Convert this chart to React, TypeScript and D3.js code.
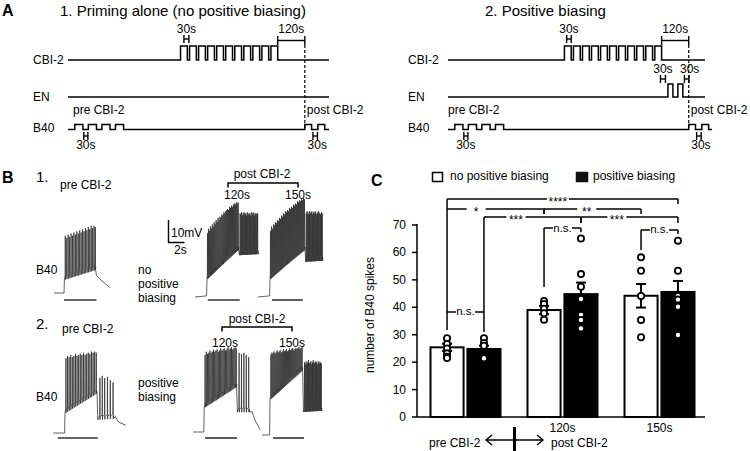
import React from 'react';
import * as d3 from 'd3';

const FONT = "'Liberation Sans', Arial, Helvetica, sans-serif";

// ---------------- Panel C data ----------------
const groups = ['pre', '120s', '150s'];
const groupLabels = ['', '120s', '150s'];
const conditions = ['no positive biasing', 'positive biasing'];
const meansNo = [25.4, 39.0, 44.2];
const meansPos = [24.8, 44.8, 45.6];
const semNo = [1.3, 1.5, 4.3];
const semPos = [1.2, 4.2, 4.0];
const pointsNo = [
  [28.7, 26.6, 25, 23.2, 22, 21.5],
  [42.3, 41.2, 39.5, 37.8, 35.5],
  [58.2, 53.3, 44.1, 35.4, 29.1],
];
const pointsPos = [
  [28.7, 27, 26, 21.4],
  [65.1, 52.1, 47.5, 43, 37.2, 35.4, 32.3],
  [64.3, 53.3, 44.1, 42.8, 40.2, 29.9],
];
const yTicks = [0, 10, 20, 30, 40, 50, 60, 70];

// significance brackets: [group, condition] endpoints, level and leg ends in y units
const sigLabels = ['****', '*', '**', '***', '***', 'n.s.', 'n.s.', 'n.s.'];
const sigFrom = [[0, 0], [0, 0], [1, 0], [0, 1], [1, 1], [0, 0], [1, 0], [2, 0]];
const sigTo = [[2, 1], [1, 0], [2, 0], [1, 1], [2, 1], [0, 1], [1, 1], [2, 1]];
const sigLevel = [79.5, 75.8, 75.8, 72.9, 72.9, 38.3, 68.9, 68.2];
const sigFromEnd = [31.7, 75.8, 74, 31, 70.7, 38.3, 47.4, 60.9];
const sigToEnd = [77.7, 74, 74, 70.7, 70.7, 38.3, 67.4, 66.7];
const sigLabelFrac = [0.48, 0.3, 0.44, 0.33, 0.37, 0.5, 0.5, 0.5];

// ---------------- Panel A data (seconds) ----------------
const cbiStarts1 = [498, 538, 578, 618, 658, 698, 738, 778, 818, 858, 898];
const cbiStarts2 = [515, 555, 595, 635, 675, 715, 755, 795, 835, 875, 915];
const cbiWidth = 30;
const b40PreStarts = [30, 90, 150, 210];
const b40PreWidth = 36;
const b40PostStarts1 = [1048, 1106];
const b40PostStarts2 = [1065, 1123];
const b40PostWidth = 30;
const enStarts2 = [973, 1017];
const enWidth = 22;
const postTime1 = 1048;
const postTime2 = 1065;
const cbiEnd1 = 928;
const cbiEnd2 = 945;

// ---------------- Panel B traces (s, mV relative to rest) ----------------
const r1PreBase = [[0, 0], [1.25, 0], [1.3, 6], [5.2, 10.5], [5.3, 8], [5.7, 6.5], [6.3, 4.5], [7, 2.5]];
const r1PreT = [1.4, 1.58, 1.76, 1.94, 2.12, 2.3, 2.48, 2.66, 2.84, 3.02, 3.2, 3.38, 3.56, 3.74, 3.92, 4.1, 4.28, 4.46, 4.64, 4.82, 5.0, 5.15];
const r1PreV = [26, 25, 26.5, 25.5, 27, 26, 27.5, 26.5, 28, 27, 28.5, 27.5, 29, 28, 29.5, 28.5, 30, 29, 30.5, 29.5, 30.5, 30];

const r1A120Base = [[0, 0], [1.45, 0.5], [1.5, 8], [3.5, 15], [5.45, 21.5], [5.55, 19], [7.9, 19.5]];
const r1A120T = [1.55, 1.67, 1.79, 1.91, 2.03, 2.15, 2.27, 2.39, 2.51, 2.63, 2.75, 2.87, 2.99, 3.11, 3.23, 3.35, 3.47, 3.59, 3.71, 3.83, 3.95, 4.07, 4.19, 4.31, 4.43, 4.55, 4.67, 4.79, 4.91, 5.03, 5.15, 5.27, 5.39,
  5.62, 5.72, 5.82, 5.92, 6.02, 6.12, 6.22, 6.32, 6.42, 6.52, 6.62, 6.72, 6.82, 6.92, 7.02, 7.12, 7.22, 7.32, 7.42, 7.52, 7.62, 7.72, 7.82];
const r1A120V = [29, 31, 30, 32, 31, 33, 32, 34, 33, 35, 34, 36, 35, 36.5, 36, 37.5, 37, 38.5, 38, 39, 39.5, 40, 39.5, 41, 40.5, 41.5, 41, 42, 42.5, 42, 43, 42.5, 43,
  38, 37.5, 38.5, 37, 38, 38.5, 37.5, 38, 37, 38.5, 38, 37.5, 38, 37, 38.5, 37.5, 38, 38.5, 37, 38, 37.5, 38, 38];

const r1A150Base = [[0, 0], [1.45, 0.5], [1.5, 8], [3.7, 15], [5.88, 21.5], [5.96, 16], [8.1, 16.5]];
const r1A150T = [1.55, 1.67, 1.8, 1.92, 2.05, 2.17, 2.3, 2.42, 2.55, 2.67, 2.8, 2.92, 3.05, 3.17, 3.3, 3.42, 3.55, 3.67, 3.8, 3.92, 4.05, 4.17, 4.3, 4.42, 4.55, 4.67, 4.8, 4.92, 5.05, 5.17, 5.3, 5.42, 5.55, 5.67, 5.8,
  6.02, 6.12, 6.22, 6.32, 6.42, 6.52, 6.62, 6.72, 6.82, 6.92, 7.02, 7.12, 7.22, 7.32, 7.42, 7.52, 7.62, 7.72, 7.82, 7.92, 8.02];
const r1A150V = [30, 32, 31, 33, 32.5, 34, 33.5, 35, 34.5, 36, 35.5, 37, 36.5, 38, 37.5, 39, 38.5, 39.5, 39, 40.5, 40, 41, 40.5, 42, 41.5, 42.5, 42, 43.5, 43, 44, 43.5, 44.5, 44, 45, 44.5,
  38, 39, 38.5, 37.5, 39, 38, 38.5, 39, 37.5, 38.5, 38, 39, 38.5, 37.5, 38, 39, 38.5, 38, 37.5, 38.5, 38];

const r2PreBase = [[0, 0], [1.45, 0], [1.5, 9], [5.5, 18], [5.6, 6], [7.6, 6.5], [7.8, 7.5], [8.2, 5], [9.1, 3.5]];
const r2PreT = [1.6, 1.8, 2.0, 2.2, 2.4, 2.6, 2.8, 3.0, 3.2, 3.4, 3.6, 3.8, 4.0, 4.2, 4.4, 4.6, 4.8, 5.0, 5.2, 5.4,
  5.85, 6.15, 6.45, 6.8, 7.15, 7.5];
const r2PreV = [34, 35, 34.5, 35.5, 34.5, 35, 36, 35, 35.5, 36, 35.5, 36.5, 35.5, 36, 36.5, 36, 37, 36.5, 37, 36.5,
  25, 26, 25, 25.5, 24, 23];

const r2A120Base = [[0, 0], [1.35, 0], [1.4, 11], [5.45, 20.5], [5.55, 9], [7.1, 9], [7.35, 9.5], [7.8, 5], [8.4, 1]];
const r2A120T = [1.5, 1.65, 1.8, 1.95, 2.1, 2.25, 2.4, 2.55, 2.7, 2.85, 3.0, 3.15, 3.3, 3.45, 3.6, 3.75, 3.9, 4.05, 4.2, 4.35, 4.5, 4.65, 4.8, 4.95, 5.1, 5.25, 5.4,
  5.75, 6.05, 6.35, 6.65, 6.95];
const r2A120V = [35, 36.5, 35.5, 36, 37, 36, 36.5, 37.5, 36.5, 37, 37.5, 36.5, 37, 38, 37, 37.5, 38, 37, 37.5, 38.5, 37.5, 38, 38.5, 37.5, 38, 38.5, 38,
  36, 35.5, 36, 35, 34];

const r2A150Base = [[0, 0], [0.95, 0], [1.0, 16], [5.08, 29.5], [5.18, 10.5], [7.5, 11]];
const r2A150T = [1.1, 1.23, 1.36, 1.49, 1.62, 1.75, 1.88, 2.01, 2.14, 2.27, 2.4, 2.53, 2.66, 2.79, 2.92, 3.05, 3.18, 3.31, 3.44, 3.57, 3.7, 3.83, 3.96, 4.09, 4.22, 4.35, 4.48, 4.61, 4.74, 4.87, 5.0,
  5.3, 5.4, 5.5, 5.6, 5.7, 5.8, 5.9, 6.0, 6.1, 6.2, 6.3, 6.4, 6.5, 6.6, 6.7, 6.8, 6.9, 7.0, 7.1, 7.2, 7.3, 7.4];
const r2A150V = [36.5, 37.5, 37, 38, 37, 37.5, 38.5, 37.5, 38, 38.5, 37.5, 38, 39, 38, 38.5, 39, 38, 38.5, 39.5, 38.5, 39, 39.5, 38.5, 39, 39.5, 39, 39.5, 40, 39, 39.5, 40,
  33, 32, 33.5, 32.5, 33, 34, 32.5, 33, 33.5, 32, 33, 34, 33, 32.5, 33.5, 33, 32, 33, 33.5, 32.5, 33, 32.5];

const stimR1Pre = [1.25, 5.3];
const stimR1A120 = [1.6, 5.6];
const stimR1A150 = [1.75, 5.6];
const stimR2Pre = [0.6, 5.6];
const stimR2A120 = [1.5, 5.5];
const stimR2A150 = [1.375, 5.25];

const PX_PER_S = 8;
const PX_PER_MV = 2.2;

function tracePath(base: number[][], spikeT: number[], spikeV: number[], x0: number, y0: number) {
  const xs = d3.scaleLinear().domain([0, 1]).range([x0, x0 + PX_PER_S]);
  const ys = d3.scaleLinear().domain([0, 1]).range([y0, y0 - PX_PER_MV]);
  const baseAt = d3.scaleLinear().domain(base.map(d => d[0])).range(base.map(d => d[1])).clamp(true);
  const events: { t: number; v: number; s: boolean }[] = [];
  base.forEach(([t, v]) => events.push({ t, v, s: false }));
  spikeT.forEach((t, i) => events.push({ t, v: spikeV[i], s: true }));
  events.sort((a, b) => a.t - b.t);
  const pts: [number, number][] = [];
  events.forEach(e => {
    if (!e.s) pts.push([e.t, e.v]);
    else {
      const b = baseAt(e.t);
      pts.push([e.t - 0.012, b + 2]);
      pts.push([e.t + 0.012, e.v]);
      pts.push([e.t + 0.035, b]);
      pts.push([e.t + 0.06, b + 1.5]);
    }
  });
  return d3.line<[number, number]>().x(d => xs(d[0])).y(d => ys(d[1]))(pts) || '';
}

function pulseTrain(xs: d3.ScaleLinear<number, number>, t0: number, t1: number, starts: number[], w: number, yBase: number, yTop: number) {
  const pts: [number, number][] = [[xs(t0), yBase]];
  starts.forEach(s => {
    pts.push([xs(s), yBase], [xs(s), yTop], [xs(s + w), yTop], [xs(s + w), yBase]);
  });
  pts.push([xs(t1), yBase]);
  return d3.line()(pts) || '';
}

const txt = (x: number, y: number, s: string, opts: any = {}) => (
  <text x={x} y={y} fontFamily={FONT} fontSize={opts.size || 12} fontWeight={opts.bold ? 'bold' : 'normal'}
    textAnchor={opts.anchor || 'start'} fill="#000">{s}</text>
);

function HMark({ x1, x2, y }: { x1: number; x2: number; y: number }) {
  return (
    <g stroke="#000" strokeWidth={1.4} fill="none">
      <line x1={x1} x2={x1} y1={y} y2={y + 8} />
      <line x1={x2} x2={x2} y1={y} y2={y + 8} />
      <line x1={x1} x2={x2} y1={y + 4} y2={y + 4} />
    </g>
  );
}

function Schematic({ ox, xs, cbiStarts, cbiEnd, postT, postStarts, enStarts, lineEnd, b40End, title, titleX, hCbi, hPre, hPost, hEn }: any) {
  const X = (t: number) => xs(t);
  return (
    <g>
      {txt(titleX, 16, title, { size: 15 })}
      {/* labels */}
      {txt(ox + 33, 64, 'CBI-2')}
      {txt(ox + 33, 101, 'EN')}
      {txt(ox + 33, 132, 'B40')}
      {/* CBI-2 */}
      <path d={pulseTrain(xs, 0, lineEnd, cbiStarts, cbiWidth, 60, 46)} fill="none" stroke="#000" strokeWidth={1.5} />
      {txt((X(hCbi[0]) + X(hCbi[1])) / 2, 33, '30s', { anchor: 'middle' })}
      <HMark x1={X(hCbi[0])} x2={X(hCbi[1])} y={35} />
      {/* 120 s bracket */}
      <g stroke="#000" strokeWidth={1.4}>
        <line x1={X(cbiEnd)} x2={X(postT)} y1={40.5} y2={40.5} />
        <line x1={X(cbiEnd)} x2={X(cbiEnd)} y1={36} y2={45} />
        <line x1={X(postT)} x2={X(postT)} y1={36} y2={45} />
      </g>
      {txt((X(cbiEnd) + X(postT)) / 2, 33, '120s', { anchor: 'middle' })}
      {/* EN */}
      <path d={pulseTrain(xs, 0, lineEnd, enStarts, enWidth, 97, 84)} fill="none" stroke="#000" strokeWidth={1.5} />
      {hEn.map((h: number[], i: number) => (
        <g key={i}>
          {txt((X(h[0]) + X(h[1])) / 2 + (i === 1 ? 3 : 0), 73, '30s', { anchor: 'middle' })}
          <HMark x1={X(h[0])} x2={X(h[1])} y={75} />
        </g>
      ))}
      {/* dashed line */}
      <line x1={X(postT)} x2={X(postT)} y1={45} y2={129} stroke="#000" strokeWidth={1.2} strokeDasharray="3,2" />
      {txt(ox + 73, 114, 'pre CBI-2')}
      {txt(X(postT) + 2, 114, 'post CBI-2')}
      {/* B40 */}
      <path d={pulseTrain(xs, 0, b40End, [...b40PreStarts, ...postStarts], 0, 129.5, 129.5)} fill="none" stroke="none" />
      <path d={(() => {
        const pts: [number, number][] = [[X(0), 129.5]];
        b40PreStarts.forEach(s => pts.push([X(s), 129.5], [X(s), 124.5], [X(s + b40PreWidth), 124.5], [X(s + b40PreWidth), 129.5]));
        postStarts.forEach((s: number) => pts.push([X(s), 129.5], [X(s), 124.5], [X(s + b40PostWidth), 124.5], [X(s + b40PostWidth), 129.5]));
        pts.push([X(b40End), 129.5]);
        return d3.line()(pts) || '';
      })()} fill="none" stroke="#000" strokeWidth={1.5} />
      <HMark x1={X(hPre[0])} x2={X(hPre[1])} y={132} />
      {txt((X(hPre[0]) + X(hPre[1])) / 2, 149, '30s', { anchor: 'middle' })}
      <HMark x1={X(hPost[0])} x2={X(hPost[1])} y={132} />
      {txt((X(hPost[0]) + X(hPost[1])) / 2 + 2, 149, '30s', { anchor: 'middle' })}
    </g>
  );
}

function Trace({ base, T, V, x0, y0, stim, barY }: any) {
  const xs = d3.scaleLinear().domain([0, 1]).range([x0, x0 + PX_PER_S]);
  return (
    <g>
      <path d={tracePath(base, T, V, x0, y0)} fill="none" stroke="#2e2e2e" strokeWidth={0.75} strokeLinejoin="round" />
      <line x1={xs(stim[0])} x2={xs(stim[1])} y1={barY} y2={barY} stroke="#333" strokeWidth={1.6} />
    </g>
  );
}

export default function App() {
  // ---------- panel C scales ----------
  const xg = d3.scaleBand<string>().domain(groups).range([417, 708]);
  const xc = d3.scaleBand<number>().domain([0, 1]).range([-36, 36]).paddingInner(0.05);
  const y = d3.scaleLinear().domain([0, 70]).range([417, 225]);
  const barLeft = (g: number, c: number) => (xg(groups[g]) as number) + xg.bandwidth() / 2 + (xc(c) as number);
  const cx = (g: number, c: number) => barLeft(g, c) + xc.bandwidth() / 2;
  const means = [meansNo, meansPos];
  const sems = [semNo, semPos];
  const pts = [pointsNo, pointsPos];

  const xsA1 = d3.scaleLinear().domain([0, 1155]).range([68, 329]);
  const xsA2 = d3.scaleLinear().domain([0, 1137]).range([448, 705]);

  return (
    <svg width={750} height={451} viewBox="0 0 750 451" style={{ position: 'absolute', left: 0, top: 0, background: '#fff' }}>
      <rect x={0} y={0} width={750} height={451} fill="#fff" />
      {/* ===== Panel A ===== */}
      {txt(2, 16, 'A', { size: 16, bold: true })}
      <Schematic ox={0} xs={xsA1} cbiStarts={cbiStarts1} cbiEnd={cbiEnd1} postT={postTime1} postStarts={b40PostStarts1}
        enStarts={[]} lineEnd={1155} b40End={1155} title="1. Priming alone (no positive biasing)" titleX={60}
        hCbi={[513, 535]} hPre={[70, 88]} hPost={[1084, 1104]} hEn={[]} />
      <Schematic ox={375} xs={xsA2} cbiStarts={cbiStarts2} cbiEnd={cbiEnd2} postT={postTime2} postStarts={b40PostStarts2}
        enStarts={enStarts2} lineEnd={1137} b40End={1168} title="2. Positive biasing" titleX={485}
        hCbi={[525, 545]} hPre={[70, 88]} hPost={[1100, 1120]} hEn={[[940, 962], [1046, 1066]]} />

      {/* ===== Panel B ===== */}
      {txt(2, 183, 'B', { size: 16, bold: true })}
      {txt(36, 182, '1.', { size: 15 })}
      {txt(60, 189, 'pre CBI-2')}
      {txt(262, 178, 'post CBI-2', { anchor: 'middle' })}
      <g stroke="#000" strokeWidth={1.5} fill="none">
        <path d="M228,187.5V183H298V187.5" />
        <path d="M222,331.5V327H292V331.5" />
      </g>
      {txt(237, 199, '120s', { anchor: 'middle' })}
      {txt(298, 199, '150s', { anchor: 'middle' })}
      {/* scale bar */}
      <path d="M168.5,220V242.5H184.5" fill="none" stroke="#000" strokeWidth={1.4} />
      {txt(171, 237, '10mV')}
      {txt(174, 254, '2s')}
      {txt(36, 274, 'B40')}
      {txt(138, 274, 'no')}
      {txt(138, 288, 'positive')}
      {txt(138, 302, 'biasing')}
      <Trace base={r1PreBase} T={r1PreT} V={r1PreV} x0={54} y0={293} stim={stimR1Pre} barY={300} />
      <Trace base={r1A120Base} T={r1A120T} V={r1A120V} x0={195} y0={297} stim={stimR1A120} barY={300} />
      <Trace base={r1A150Base} T={r1A150T} V={r1A150V} x0={258} y0={297} stim={stimR1A150} barY={300} />

      {txt(36, 329, '2.', { size: 15 })}
      {txt(62, 333, 'pre CBI-2')}
      {txt(257, 323, 'post CBI-2', { anchor: 'middle' })}
      {txt(225, 347, '120s', { anchor: 'middle' })}
      {txt(292, 347, '150s', { anchor: 'middle' })}
      {txt(36, 401, 'B40')}
      {txt(138, 387, 'positive')}
      {txt(138, 401, 'biasing')}
      <Trace base={r2PreBase} T={r2PreT} V={r2PreV} x0={53} y0={433} stim={stimR2Pre} barY={438} />
      <Trace base={r2A120Base} T={r2A120T} V={r2A120V} x0={193} y0={432} stim={stimR2A120} barY={438} />
      <Trace base={r2A150Base} T={r2A150T} V={r2A150V} x0={262} y0={435} stim={stimR2A150} barY={438} />

      {/* ===== Panel C ===== */}
      {txt(371, 186, 'C', { size: 16, bold: true })}
      {/* legend */}
      <rect x={432.5} y={172.5} width={10} height={9} fill="#fff" stroke="#000" strokeWidth={1.5} />
      {txt(450, 180, conditions[0])}
      <rect x={576.5} y={172.5} width={11} height={9} fill="#111" stroke="#111" strokeWidth={1.5} />
      {txt(593, 180, conditions[1])}

      {/* axis */}
      <line x1={417} x2={417} y1={y(70) - 1} y2={y(0)} stroke="#000" strokeWidth={1.5} />
      <line x1={417} x2={705} y1={y(0)} y2={y(0)} stroke="#000" strokeWidth={1.5} />
      {yTicks.map(t => (
        <g key={t}>
          <line x1={412} x2={417} y1={y(t)} y2={y(t)} stroke="#000" strokeWidth={1.5} />
          {txt(406, y(t) + 4, String(t), { anchor: 'end' })}
        </g>
      ))}
      <text transform="translate(374,315) rotate(-90)" fontFamily={FONT} fontSize={12} textAnchor="middle">number of B40 spikes</text>

      {/* bars */}
      {groups.map((g, gi) => [0, 1].map(c => (
        <rect key={g + c} x={barLeft(gi, c) + 1} y={y(means[c][gi])} width={xc.bandwidth() - 2}
          height={y(0) - y(means[c][gi])} fill={c === 0 ? '#fff' : '#000'} stroke="#000" strokeWidth={2} />
      )))}
      {/* error bars */}
      {groups.map((g, gi) => [0, 1].map(c => {
        const xm = cx(gi, c);
        const hi = y(means[c][gi] + sems[c][gi]);
        const lo = y(means[c][gi] - sems[c][gi]);
        return (
          <g key={'e' + g + c} stroke="#000" strokeWidth={2}>
            <line x1={xm} x2={xm} y1={hi} y2={lo} />
            <line x1={xm - 5} x2={xm + 5} y1={hi} y2={hi} />
            <line x1={xm - 5} x2={xm + 5} y1={lo} y2={lo} />
          </g>
        );
      }))}
      {/* points */}
      {groups.map((g, gi) => [0, 1].map(c => pts[c][gi].map((v, i) => (
        <circle key={'p' + g + c + i} cx={cx(gi, c)} cy={y(v)} r={3.1} fill="#fff" stroke="#000" strokeWidth={1.8} />
      ))))}
      {/* significance brackets */}
      {sigLabels.map((lab, i) => {
        const xa = cx(sigFrom[i][0], sigFrom[i][1]);
        const xb = cx(sigTo[i][0], sigTo[i][1]);
        const yl = y(sigLevel[i]);
        const lx = xa + (xb - xa) * sigLabelFrac[i];
        const isStar = lab.indexOf('*') >= 0;
        const gap = lab === '****' ? 22 : 19;
        return (
          <g key={'s' + i}>
            <g stroke="#000" strokeWidth={1.5} fill="none">
              <line x1={xa} x2={xb} y1={yl} y2={yl} />
              <line x1={xa} x2={xa} y1={yl} y2={y(sigFromEnd[i])} />
              <line x1={xb} x2={xb} y1={yl} y2={y(sigToEnd[i])} />
            </g>
            <rect x={lx - gap / 2} y={yl - 3} width={gap} height={6} fill="#fff" />
            <text x={lx} y={isStar ? yl + 7 : yl + 3.5} fontFamily={FONT} fontSize={isStar ? 12 : 11.5}
              textAnchor="middle">{lab}</text>
          </g>
        );
      })}
      {/* x labels */}
      {groupLabels.map((l, gi) => l ? (
        <g key={'xl' + gi}>{txt((xg(groups[gi]) as number) + xg.bandwidth() / 2, 432, l, { anchor: 'middle' })}</g>
      ) : null)}
      {txt(429, 447, 'pre CBI-2')}
      {txt(551, 447, 'post CBI-2')}
      <g stroke="#000" strokeWidth={1.4} fill="none">
        <line x1={486} x2={543} y1={440} y2={440} />
        <path d="M492,435L486,440L492,445" />
        <path d="M537,435L543,440L537,445" />
      </g>
      <line x1={514.5} x2={514.5} y1={427} y2={451} stroke="#000" strokeWidth={3} />
    </svg>
  );
}
